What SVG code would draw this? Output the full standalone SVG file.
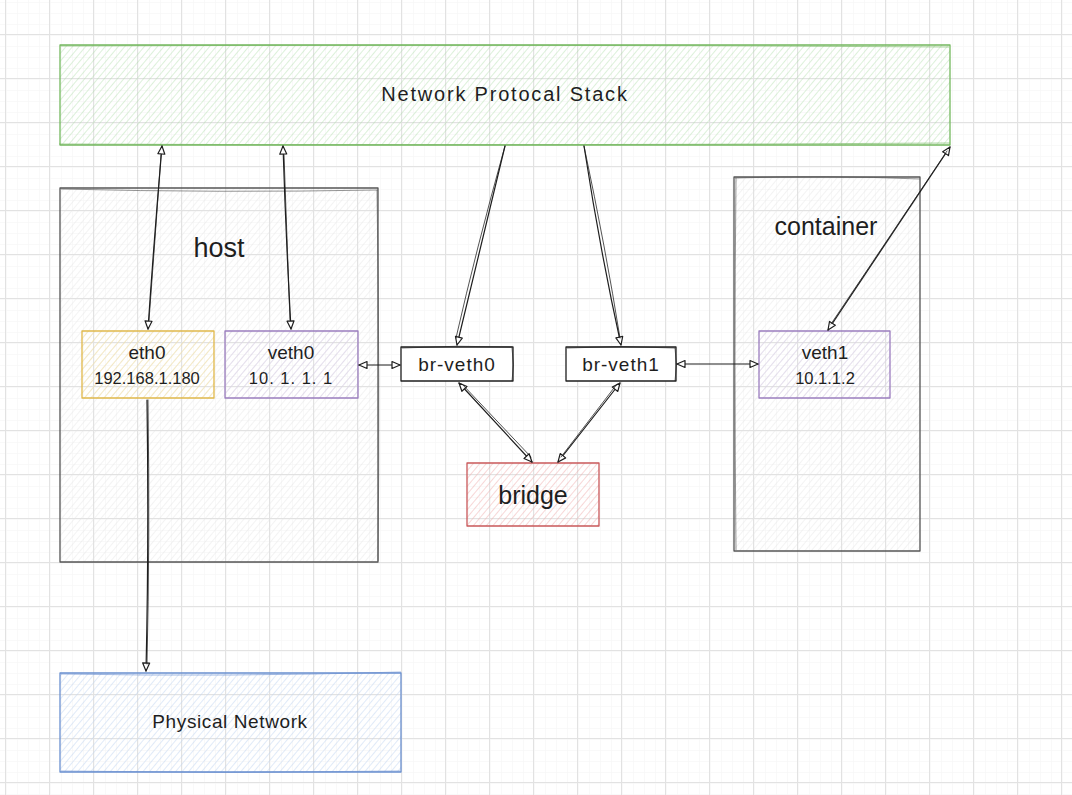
<svg xmlns="http://www.w3.org/2000/svg" width="1072" height="795" viewBox="0 0 1072 795">
  <defs>
    <pattern id="gridMinor" x="1" y="1" width="11" height="11" patternUnits="userSpaceOnUse">
      <path d="M0,0 H11 M0,0 V11" fill="none" stroke="#f3f3f3" stroke-width="1"/>
    </pattern>
    <pattern id="gridMajor" x="5" y="34" width="44" height="44" patternUnits="userSpaceOnUse">
      <rect width="44" height="44" fill="url(#gridMinor)"/>
      <path d="M0,0.5 H44 M0.5,0 V44" fill="none" stroke="#e2e2e2" stroke-width="1"/>
    </pattern>
    <pattern id="hGreen" width="5" height="5" patternUnits="userSpaceOnUse" patternTransform="rotate(40)">
      <line x1="0" y1="0" x2="0" y2="5" stroke="#a9dca4" stroke-width="1"/>
    </pattern>
    <pattern id="hGray" width="5" height="5" patternUnits="userSpaceOnUse" patternTransform="rotate(40)">
      <line x1="0" y1="0" x2="0" y2="5" stroke="#e2e2e2" stroke-width="1"/>
    </pattern>
    <pattern id="hYellow" width="5" height="5" patternUnits="userSpaceOnUse" patternTransform="rotate(40)">
      <line x1="0" y1="0" x2="0" y2="5" stroke="#f5df98" stroke-width="1"/>
    </pattern>
    <pattern id="hPurple" width="5" height="5" patternUnits="userSpaceOnUse" patternTransform="rotate(40)">
      <line x1="0" y1="0" x2="0" y2="5" stroke="#d8cbe8" stroke-width="1"/>
    </pattern>
    <pattern id="hRed" width="5" height="5" patternUnits="userSpaceOnUse" patternTransform="rotate(40)">
      <line x1="0" y1="0" x2="0" y2="5" stroke="#efb0b0" stroke-width="1"/>
    </pattern>
    <pattern id="hBlue" width="5" height="5" patternUnits="userSpaceOnUse" patternTransform="rotate(40)">
      <line x1="0" y1="0" x2="0" y2="5" stroke="#c2d5f2" stroke-width="1"/>
    </pattern>
    <marker id="ah" viewBox="0 0 10 10" refX="9" refY="5" markerWidth="10" markerHeight="10" markerUnits="userSpaceOnUse" orient="auto-start-reverse">
      <path d="M1,1.5 L9,5 L1,8.5 Z" fill="#ffffff" stroke="#1e1e1e" stroke-width="1.2" stroke-linejoin="round"/>
    </marker>
  </defs>
  <style>
    .t { font-family: "Liberation Sans", "DejaVu Sans", sans-serif; fill: #1e1e1e; text-anchor: middle; dominant-baseline: central; }
    .box { stroke-width: 1.3; stroke-linejoin: round; }
    .sk { fill: none; stroke-width: 0.9; opacity: 0.7; }
    .c { fill: none; stroke: #1e1e1e; stroke-width: 1.2; stroke-linecap: round; }
    .c2 { fill: none; stroke: #1e1e1e; stroke-width: 0.9; stroke-linecap: round; opacity: 0.85; }
  </style>

  <rect width="1072" height="795" fill="#ffffff"/>
  <rect width="1072" height="795" fill="url(#gridMajor)"/>

  <g id="node-stack">
    <rect class="box" x="60" y="45" width="890" height="100" fill="url(#hGreen)" fill-opacity="0.8" stroke="#74b85f"/>
    <path class="sk" d="M61,46 Q500,44 949,47 M59,144 Q500,146 950,143" stroke="#74b85f"/>
    <text class="t" x="505" y="94" font-size="20" letter-spacing="1.8">Network Protocal Stack</text>
  </g>

  <g id="node-host">
    <rect class="box" x="60" y="188" width="318" height="374" fill="url(#hGray)" fill-opacity="0.8" stroke="#555555"/>
    <path class="sk" d="M61,189 Q220,193 378,190 M377,190 Q380,380 378,561" stroke="#555555"/>
    <text class="t" x="219" y="248" font-size="27">host</text>
  </g>

  <g id="node-container">
    <rect class="box" x="734" y="177" width="186" height="374" fill="url(#hGray)" fill-opacity="0.8" stroke="#555555"/>
    <path class="sk" d="M735,178 Q826,175 920,179 M736,178 Q734,360 736,550" stroke="#555555"/>
    <text class="t" x="826" y="226" font-size="25">container</text>
  </g>

  <g id="node-eth0">
    <rect class="box" x="82" y="331" width="132" height="67" fill="url(#hYellow)" stroke="#e0b84a"/>
    <text class="t" x="147" y="352" font-size="19">eth0</text>
    <text class="t" x="147" y="378" font-size="16.5">192.168.1.180</text>
  </g>

  <g id="node-veth0">
    <rect class="box" x="225" y="331" width="133" height="67" fill="url(#hPurple)" stroke="#9b7dbf"/>
    <text class="t" x="291" y="352" font-size="19">veth0</text>
    <text class="t" x="291" y="378" font-size="16.5" letter-spacing="1">10. 1. 1. 1</text>
  </g>

  <g id="node-br-veth0">
    <rect class="box" x="401" y="347" width="112" height="34" fill="#ffffff" stroke="#1e1e1e"/>
    <path class="sk" d="M402,348 Q457,345 512,347 M512,348 Q515,365 512,381" stroke="#1e1e1e"/>
    <text class="t" x="457" y="364" font-size="19" letter-spacing="1">br-veth0</text>
  </g>

  <g id="node-br-veth1">
    <rect class="box" x="566" y="347" width="110" height="34" fill="#ffffff" stroke="#1e1e1e"/>
    <path class="sk" d="M567,348 Q621,345 675,348 M675,348 Q678,365 675,381" stroke="#1e1e1e"/>
    <text class="t" x="621" y="364" font-size="19" letter-spacing="1">br-veth1</text>
  </g>

  <g id="node-veth1">
    <rect class="box" x="759" y="331" width="131" height="67" fill="url(#hPurple)" stroke="#9b7dbf"/>
    <text class="t" x="825" y="352" font-size="19">veth1</text>
    <text class="t" x="825" y="378" font-size="16.5">10.1.1.2</text>
  </g>

  <g id="node-bridge">
    <rect class="box" x="467" y="463" width="132" height="63" fill="url(#hRed)" stroke="#c9585a"/>
    <text class="t" x="533" y="495" font-size="25">bridge</text>
  </g>

  <g id="node-physical">
    <rect class="box" x="60" y="673" width="341" height="99" fill="url(#hBlue)" stroke="#6a90d0"/>
    <path class="sk" d="M61,674 Q230,677 401,672 M61,771 Q230,774 400,771" stroke="#6a90d0"/>
    <text class="t" x="230" y="721" font-size="19" letter-spacing="0.6">Physical Network</text>
  </g>

  <g id="connectors">
    <path class="c" d="M148,329 Q154,240 162,146" marker-start="url(#ah)" marker-end="url(#ah)"/>
    <path class="c2" d="M149,320 Q155,240 161,155"/>
    <path class="c" d="M291,329 Q286,240 283,146" marker-start="url(#ah)" marker-end="url(#ah)"/>
    <path class="c2" d="M290,320 Q287,240 284,155"/>
    <path class="c" d="M505,146 Q480,250 457,345" marker-end="url(#ah)"/>
    <path class="c2" d="M505,146 Q476,250 456,338"/>
    <path class="c" d="M584,146 Q600,250 621,345" marker-end="url(#ah)"/>
    <path class="c2" d="M584,146 Q606,250 620,338"/>
    <path class="c" d="M359,365 L400,365" marker-start="url(#ah)" marker-end="url(#ah)"/>
    <path class="c" d="M677,364 L758,364" marker-start="url(#ah)" marker-end="url(#ah)"/>
    <path class="c" d="M459,383 L532,462" marker-start="url(#ah)" marker-end="url(#ah)"/>
    <path class="c2" d="M462,384 L531,457"/>
    <path class="c" d="M620,383 L558,462" marker-start="url(#ah)" marker-end="url(#ah)"/>
    <path class="c2" d="M617,384 L561,457"/>
    <path class="c" d="M828,330 L950,147" marker-start="url(#ah)" marker-end="url(#ah)"/>
    <path class="c2" d="M831,324 L947,151"/>
    <path class="c" d="M147,400 Q149,540 146,671" marker-end="url(#ah)"/>
    <path class="c2" d="M148,400 Q150,540 147,664"/>
  </g>
</svg>
